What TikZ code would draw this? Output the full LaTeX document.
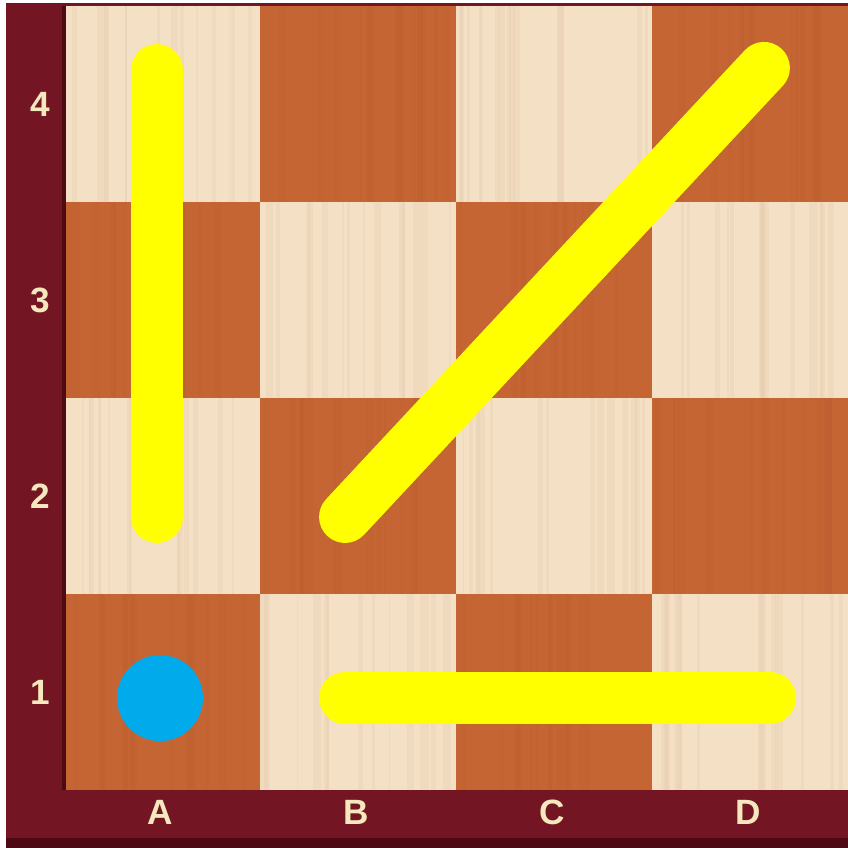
\documentclass[tikz,border=0pt]{standalone}
\usepackage{fontspec}
\setmainfont{Liberation Sans}
\usetikzlibrary{positioning}

\definecolor{lightwood}{HTML}{F4E0C4}
\definecolor{darkwood}{HTML}{C66534}
\definecolor{grain}{HTML}{7A3A14}
\definecolor{framered}{HTML}{731522}
\definecolor{framedark}{HTML}{4E0A14}
\definecolor{labelcream}{HTML}{F6E8BE}
\definecolor{dotblue}{HTML}{00AAEB}
\definecolor{trackyellow}{HTML}{FFFF00}

\begin{document}
\begin{tikzpicture}[x=1.96cm, y=1.96cm,
	sqbox/.style={rectangle, minimum size=1.96cm, inner sep=0pt, outer sep=0pt},
	lightbox/.style={sqbox, fill=lightwood},
	darkbox/.style={sqbox, fill=darkwood},
	rank/.style={font=\bfseries\fontsize{10}{12}\selectfont, text=labelcream, inner sep=0pt},
	track/.style={trackyellow, line width=0.52cm, line cap=round},
	marker/.style={circle, fill=dotblue, minimum size=0.86cm, inner sep=0pt}
	]

	\useasboundingbox (-0.3265,-0.2959) rectangle (4,4.0306);
	\fill[white] (-0.3265,-0.2959) rectangle (4,4.0306);

	% frame
	\fill[framered] (-0.296,-0.245) rectangle (4,4.015);
	\fill[framedark] (-0.296,-0.2959) rectangle (4,-0.245);

	% squares
	\foreach \c in {0,...,3}
		\foreach \r in {0,...,3} {
			\pgfmathtruncatemacro{\odd}{mod(\c+\r,2)}
			\ifnum\odd=0 \def\sqstyle{darkbox}\else\def\sqstyle{lightbox}\fi
			\node[\sqstyle] (sq-\c-\r) at (\c+0.5,\r+0.5) {};
		}

	% wood grain
	\pgfmathsetseed{11}
	\foreach \c in {0,...,3}
		\foreach \r in {0,...,3}
			\foreach \k in {1,...,14} {
				\pgfmathsetmacro{\gx}{\c+0.02+0.96*rnd}
				\pgfmathsetmacro{\gw}{0.4+2*rnd}
				\draw[grain, opacity=0.03, line width=\gw pt] (\gx,\r) -- (\gx,\r+1);
			}
	\draw[framedark, line width=1.2pt] (sq-0-0.south west) -- (sq-0-3.north west);

	% file and rank labels
	\foreach \f [count=\i from 0] in {A,B,C,D}
		\node[rank] (file-\f) at (\i+0.49,-0.112) {\f};
	\foreach \n [count=\i from 0] in {1,2,3,4}
		\node[rank] (rank-\n) at (-0.122,\i+0.5) {\n};

	% moves
	\coordinate (vtop) at (0.474,3.673);
	\coordinate (vbot) at (0.474,1.393);
	\coordinate (dlow) at (1.434,1.393);
	\coordinate (dhigh) at (3.571,3.684);
	\coordinate (hleft) at (1.434,0.469);
	\coordinate (hright) at (3.602,0.469);

	\draw[track] (vbot) -- (vtop);
	\draw[track] (dlow) -- (dhigh);
	\draw[track] (hleft) -- (hright);

	\node[marker] (start) at (0.490,0.469) {};

\end{tikzpicture}
\end{document}
